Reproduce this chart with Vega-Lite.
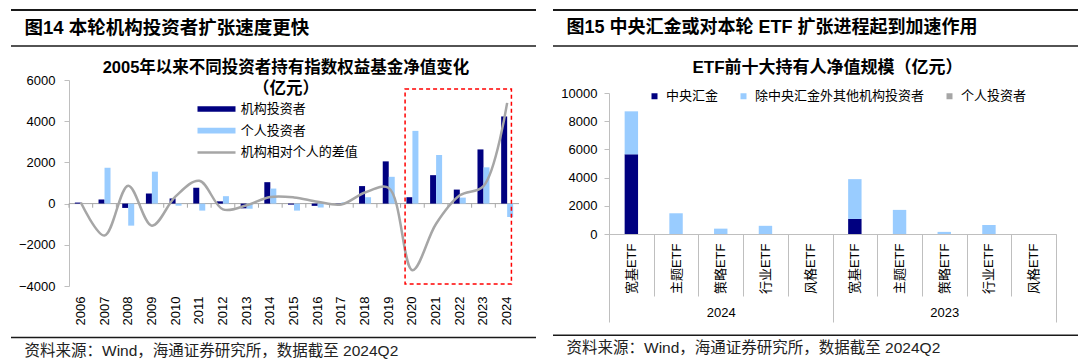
{
  "$schema": "https://vega.github.io/schema/vega-lite/v6.json",
  "background": "white",
  "padding": {"left": 10, "top": 9, "right": 0, "bottom": 0},
  "spacing": 15,
  "resolve": {"scale": {"color": "independent"}, "legend": {"color": "independent"}},
  "config": {
    "view": {"stroke": null},
    "font": "Liberation Sans, Noto Sans CJK SC",
    "axis": {"labelFont": "Liberation Sans, Noto Sans CJK SC", "labelColor": "#000000", "labelFontSize": 13},
    "legend": {"labelFont": "Noto Sans CJK SC", "labelColor": "#000000", "labelFontSize": 13, "labelLimit": 400},
    "title": {"font": "Liberation Sans, Noto Sans CJK SC", "color": "#000000", "fontWeight": "bold"}
  },
  "datasets": {
    "leftBars": [
      {"year": "2006", "series": "机构投资者", "value": 50}, {"year": "2006", "series": "个人投资者", "value": 0},
      {"year": "2007", "series": "机构投资者", "value": 200}, {"year": "2007", "series": "个人投资者", "value": 1740},
      {"year": "2008", "series": "机构投资者", "value": -210}, {"year": "2008", "series": "个人投资者", "value": -1070},
      {"year": "2009", "series": "机构投资者", "value": 490}, {"year": "2009", "series": "个人投资者", "value": 1550},
      {"year": "2010", "series": "机构投资者", "value": 250}, {"year": "2010", "series": "个人投资者", "value": -100},
      {"year": "2011", "series": "机构投资者", "value": 770}, {"year": "2011", "series": "个人投资者", "value": -340},
      {"year": "2012", "series": "机构投资者", "value": 110}, {"year": "2012", "series": "个人投资者", "value": 360},
      {"year": "2013", "series": "机构投资者", "value": -230}, {"year": "2013", "series": "个人投资者", "value": -250},
      {"year": "2014", "series": "机构投资者", "value": 1040}, {"year": "2014", "series": "个人投资者", "value": 730},
      {"year": "2015", "series": "机构投资者", "value": -50}, {"year": "2015", "series": "个人投资者", "value": -340},
      {"year": "2016", "series": "机构投资者", "value": -110}, {"year": "2016", "series": "个人投资者", "value": -190},
      {"year": "2017", "series": "机构投资者", "value": 20}, {"year": "2017", "series": "个人投资者", "value": 60},
      {"year": "2018", "series": "机构投资者", "value": 850}, {"year": "2018", "series": "个人投资者", "value": 310},
      {"year": "2019", "series": "机构投资者", "value": 2050}, {"year": "2019", "series": "个人投资者", "value": 1300},
      {"year": "2020", "series": "机构投资者", "value": 310}, {"year": "2020", "series": "个人投资者", "value": 3530},
      {"year": "2021", "series": "机构投资者", "value": 1380}, {"year": "2021", "series": "个人投资者", "value": 2360},
      {"year": "2022", "series": "机构投资者", "value": 680}, {"year": "2022", "series": "个人投资者", "value": 290},
      {"year": "2023", "series": "机构投资者", "value": 2630}, {"year": "2023", "series": "个人投资者", "value": 1760},
      {"year": "2024", "series": "机构投资者", "value": 4230}, {"year": "2024", "series": "个人投资者", "value": -650}
    ],
    "leftDiff": [
      {"year": "2006", "diff": 50}, {"year": "2007", "diff": -1550}, {"year": "2008", "diff": 870},
      {"year": "2009", "diff": -1070}, {"year": "2010", "diff": 350}, {"year": "2011", "diff": 1110},
      {"year": "2012", "diff": -280}, {"year": "2013", "diff": -80}, {"year": "2014", "diff": 320},
      {"year": "2015", "diff": 300}, {"year": "2016", "diff": 90}, {"year": "2017", "diff": -40},
      {"year": "2018", "diff": 540}, {"year": "2019", "diff": 760}, {"year": "2020", "diff": -3230},
      {"year": "2021", "diff": -980}, {"year": "2022", "diff": 400}, {"year": "2023", "diff": 850},
      {"year": "2024", "diff": 4890}
    ],
    "etf": [
      {"year": "2024", "slot": "2024 宽基ETF", "investor": "中央汇金", "value": 5650},
      {"year": "2024", "slot": "2024 宽基ETF", "investor": "除中央汇金外其他机构投资者", "value": 3050},
      {"year": "2024", "slot": "2024 宽基ETF", "investor": "个人投资者", "value": 0},
      {"year": "2024", "slot": "2024 主题ETF", "investor": "中央汇金", "value": 0},
      {"year": "2024", "slot": "2024 主题ETF", "investor": "除中央汇金外其他机构投资者", "value": 1470},
      {"year": "2024", "slot": "2024 主题ETF", "investor": "个人投资者", "value": 0},
      {"year": "2024", "slot": "2024 策略ETF", "investor": "中央汇金", "value": 0},
      {"year": "2024", "slot": "2024 策略ETF", "investor": "除中央汇金外其他机构投资者", "value": 380},
      {"year": "2024", "slot": "2024 策略ETF", "investor": "个人投资者", "value": 0},
      {"year": "2024", "slot": "2024 行业ETF", "investor": "中央汇金", "value": 0},
      {"year": "2024", "slot": "2024 行业ETF", "investor": "除中央汇金外其他机构投资者", "value": 580},
      {"year": "2024", "slot": "2024 行业ETF", "investor": "个人投资者", "value": 0},
      {"year": "2024", "slot": "2024 风格ETF", "investor": "中央汇金", "value": 0},
      {"year": "2024", "slot": "2024 风格ETF", "investor": "除中央汇金外其他机构投资者", "value": 0},
      {"year": "2024", "slot": "2024 风格ETF", "investor": "个人投资者", "value": 0},
      {"year": "2023", "slot": "2023 宽基ETF", "investor": "中央汇金", "value": 1070},
      {"year": "2023", "slot": "2023 宽基ETF", "investor": "除中央汇金外其他机构投资者", "value": 2820},
      {"year": "2023", "slot": "2023 宽基ETF", "investor": "个人投资者", "value": 0},
      {"year": "2023", "slot": "2023 主题ETF", "investor": "中央汇金", "value": 0},
      {"year": "2023", "slot": "2023 主题ETF", "investor": "除中央汇金外其他机构投资者", "value": 1710},
      {"year": "2023", "slot": "2023 主题ETF", "investor": "个人投资者", "value": 0},
      {"year": "2023", "slot": "2023 策略ETF", "investor": "中央汇金", "value": 0},
      {"year": "2023", "slot": "2023 策略ETF", "investor": "除中央汇金外其他机构投资者", "value": 150},
      {"year": "2023", "slot": "2023 策略ETF", "investor": "个人投资者", "value": 0},
      {"year": "2023", "slot": "2023 行业ETF", "investor": "中央汇金", "value": 0},
      {"year": "2023", "slot": "2023 行业ETF", "investor": "除中央汇金外其他机构投资者", "value": 640},
      {"year": "2023", "slot": "2023 行业ETF", "investor": "个人投资者", "value": 0},
      {"year": "2023", "slot": "2023 风格ETF", "investor": "中央汇金", "value": 0},
      {"year": "2023", "slot": "2023 风格ETF", "investor": "除中央汇金外其他机构投资者", "value": 0},
      {"year": "2023", "slot": "2023 风格ETF", "investor": "个人投资者", "value": 0}
    ]
  },
  "hconcat": [
    {
      "spacing": 0,
      "resolve": {"scale": {"color": "independent"}, "legend": {"color": "independent"}},
      "vconcat": [
        {
          "width": 450, "height": 49.5,
          "data": {"values": [{"heading": "图14 本轮机构投资者扩张速度更快"}]},
          "layer": [
            {"mark": {"type": "rule", "stroke": "#1a1a1a", "strokeWidth": 2},
             "encoding": {
               "x": {"datum": -58, "type": "quantitative", "scale": {"domain": [0, 450], "nice": false, "zero": false}, "axis": null},
               "x2": {"datum": 467},
               "y": {"datum": 0, "type": "quantitative", "scale": {"domain": [0, 49.5], "nice": false, "zero": false, "reverse": true}, "axis": null}}},
            {"mark": {"type": "rule", "stroke": "#1a1a1a", "strokeWidth": 1.5},
             "encoding": {"x": {"datum": -58, "type": "quantitative"}, "x2": {"datum": 467}, "y": {"datum": 36, "type": "quantitative"}}},
            {"mark": {"type": "text", "align": "left", "baseline": "middle", "fontSize": 18.5, "fontWeight": "bold", "color": "#000000"},
             "encoding": {"x": {"datum": -44.5, "type": "quantitative"}, "y": {"datum": 18, "type": "quantitative"}, "text": {"field": "heading"}}}
          ]
        },
        {
          "width": 450, "height": 206,
          "title": {"text": ["2005年以来不同投资者持有指数权益基金净值变化", "（亿元）"], "fontSize": 16.5, "lineHeight": 21, "offset": -23.7, "dx": -8, "anchor": "middle"},
          "layer": [
            {
              "data": {"values": [{}]},
              "mark": {"type": "rule", "color": "#A6A6A6", "strokeWidth": 1},
              "encoding": {"y": {"datum": 0, "type": "quantitative"}}
            },
            {
              "data": {"name": "leftDiff"},
              "mark": {"type": "rule", "color": "#A6A6A6", "strokeWidth": 1},
              "encoding": {
                "x": {"field": "year", "type": "nominal", "sort": null, "bandPosition": 0},
                "y": {"datum": 0, "type": "quantitative"},
                "y2": {"datum": -200}
              }
            },
            {
              "data": {"name": "leftBars"},
              "mark": {"type": "bar"},
              "encoding": {
                "x": {"field": "year", "type": "nominal", "sort": null, "scale": {"paddingInner": 0, "paddingOuter": 0},
                      "axis": {"orient": "bottom", "title": null, "domain": false, "ticks": false, "labelAngle": -90, "labelAlign": "right", "labelBaseline": "middle", "labelPadding": 10}},
                "xOffset": {"field": "series", "type": "nominal", "sort": ["机构投资者", "个人投资者"], "scale": {"paddingInner": 0, "paddingOuter": 0.975}},
                "y": {"field": "value", "type": "quantitative", "scale": {"domain": [-4000, 6000], "nice": false, "zero": false},
                      "axis": {"title": null, "values": [-4000, -2000, 0, 2000, 4000, 6000], "format": "d", "grid": false, "domainColor": "#BFBFBF", "tickColor": "#BFBFBF", "tickSize": 5, "labelPadding": 9}},
                "color": {"field": "series", "type": "nominal",
                          "scale": {"domain": ["机构投资者", "个人投资者", "机构相对个人的差值"], "range": ["#000080", "#99CCFF", "#A6A6A6"]},
                          "legend": {"orient": "none", "legendX": 141, "legendY": 22.5, "direction": "vertical", "title": null,
                                     "symbolType": "M-3.8,-0.57H3.8V0.57H-3.8Z", "symbolSize": 100, "symbolStrokeWidth": 0,
                                     "labelOffset": 17.7, "rowPadding": 7.7,
                                     "encode": {"symbols": {"update": {
                                       "shape": {"signal": "datum.value === '机构相对个人的差值' ? 'M-3.8,-0.25H3.8V0.25H-3.8Z' : 'M-3.8,-0.57H3.8V0.57H-3.8Z'"},
                                       "fill": {"scale": "color", "field": "value"},
                                       "strokeWidth": {"value": 0}}}}}}
              }
            },
            {
              "data": {"name": "leftDiff"},
              "mark": {"type": "line", "interpolate": "catmull-rom", "strokeWidth": 2.5},
              "encoding": {
                "x": {"field": "year", "type": "nominal", "sort": null, "bandPosition": 0.5},
                "y": {"field": "diff", "type": "quantitative"},
                "color": {"datum": "机构相对个人的差值"}
              }
            },
            {
              "data": {"values": [{}]},
              "mark": {"type": "rect", "fill": null, "stroke": "#FF0000", "strokeWidth": 1.5, "strokeDash": [4, 3]},
              "encoding": {
                "x": {"datum": "2020", "bandPosition": 0.19},
                "x2": {"datum": "2024", "bandPosition": 0.68},
                "y": {"datum": 5560},
                "y2": {"datum": -3900}
              }
            }
          ]
        },
        {
          "width": 450, "height": 32,
          "data": {"values": [{"source": "资料来源：Wind，海通证券研究所，数据截至 2024Q2"}]},
          "layer": [
            {"mark": {"type": "rule", "stroke": "#1a1a1a", "strokeWidth": 1.5},
             "encoding": {
               "x": {"datum": -58, "type": "quantitative", "scale": {"domain": [0, 450], "nice": false, "zero": false}, "axis": null},
               "x2": {"datum": 467},
               "y": {"datum": 12.5, "type": "quantitative", "scale": {"domain": [0, 32], "nice": false, "zero": false, "reverse": true}, "axis": null}}},
            {"mark": {"type": "text", "align": "left", "baseline": "middle", "fontSize": 15.5, "color": "#222222"},
             "encoding": {"x": {"datum": -44.5, "type": "quantitative"}, "y": {"datum": 25.5, "type": "quantitative"}, "text": {"field": "source"}}}
          ]
        }
      ]
    },
    {
      "spacing": 0,
      "resolve": {"scale": {"color": "independent"}, "legend": {"color": "independent"}},
      "vconcat": [
        {
          "width": 447, "height": 49,
          "data": {"values": [{"heading": "图15 中央汇金或对本轮 ETF 扩张进程起到加速作用"}]},
          "layer": [
            {"mark": {"type": "rule", "stroke": "#1a1a1a", "strokeWidth": 2},
             "encoding": {
               "x": {"datum": -56, "type": "quantitative", "scale": {"domain": [0, 447], "nice": false, "zero": false}, "axis": null},
               "x2": {"datum": 469},
               "y": {"datum": 0, "type": "quantitative", "scale": {"domain": [0, 49], "nice": false, "zero": false, "reverse": true}, "axis": null}}},
            {"mark": {"type": "rule", "stroke": "#1a1a1a", "strokeWidth": 1.5},
             "encoding": {"x": {"datum": -56, "type": "quantitative"}, "x2": {"datum": 469}, "y": {"datum": 36, "type": "quantitative"}}},
            {"mark": {"type": "text", "align": "left", "baseline": "middle", "fontSize": 18, "fontWeight": "bold", "color": "#000000"},
             "encoding": {"x": {"datum": -42.5, "type": "quantitative"}, "y": {"datum": 18, "type": "quantitative"}, "text": {"field": "heading"}}}
          ]
        },
        {
          "width": 447, "height": 141,
          "title": {"text": "ETF前十大持有人净值规模（亿元）", "fontSize": 17, "offset": 10, "dx": -5, "anchor": "middle"},
          "layer": [
            {
              "data": {"name": "etf"},
              "mark": {"type": "bar", "width": {"band": 0.3}},
              "encoding": {
                "x": {"field": "slot", "type": "nominal", "sort": null, "scale": {"paddingInner": 0, "paddingOuter": 0},
                      "axis": {"orient": "bottom", "title": null, "domain": true, "domainColor": "#BFBFBF", "ticks": true, "tickBand": "extent", "tickSize": 62, "tickColor": "#BFBFBF",
                               "labelAngle": -90, "labelAlign": "right", "labelBaseline": "middle", "labelPadding": -53, "labelExpr": "slice(datum.label, 5)"}},
                "y": {"field": "value", "type": "quantitative", "stack": "zero", "scale": {"domain": [0, 10000], "nice": false},
                      "axis": {"title": null, "values": [0, 2000, 4000, 6000, 8000, 10000], "format": "d", "grid": false, "domainColor": "#BFBFBF", "tickColor": "#BFBFBF", "tickSize": 5, "labelPadding": 7}},
                "order": {"field": "investor", "type": "nominal", "sort": "ascending"},
                "color": {"field": "investor", "type": "nominal",
                          "scale": {"domain": ["中央汇金", "除中央汇金外其他机构投资者", "个人投资者"], "range": ["#000080", "#99CCFF", "#A6A6A6"]},
                          "legend": {"orient": "none", "legendX": 39, "legendY": -3.5, "direction": "horizontal", "title": null,
                                     "symbolType": "square", "symbolSize": 36, "symbolStrokeWidth": 0, "labelOffset": 5, "columnPadding": 18}}
              }
            },
            {
              "data": {"values": [{"year": "2024"}, {"year": "2023"}]},
              "mark": {"type": "rule", "opacity": 0},
              "encoding": {
                "x": {"field": "year", "type": "nominal", "sort": null, "scale": {"paddingInner": 0, "paddingOuter": 0},
                      "axis": {"orient": "bottom", "title": null, "domain": false, "ticks": true, "tickBand": "extent", "tickSize": 88, "tickColor": "#BFBFBF",
                               "labelAngle": 0, "labelAlign": "center", "labelBaseline": "top", "labelPadding": -16}}
              }
            }
          ],
          "resolve": {"scale": {"x": "independent"}}
        },
        {
          "width": 447, "height": 30,
          "data": {"values": [{"source": "资料来源：Wind，海通证券研究所，数据截至 2024Q2"}]},
          "layer": [
            {"mark": {"type": "rule", "stroke": "#1a1a1a", "strokeWidth": 1.5},
             "encoding": {
               "x": {"datum": -56, "type": "quantitative", "scale": {"domain": [0, 447], "nice": false, "zero": false}, "axis": null},
               "x2": {"datum": 469},
               "y": {"datum": 12.3, "type": "quantitative", "scale": {"domain": [0, 30], "nice": false, "zero": false, "reverse": true}, "axis": null}}},
            {"mark": {"type": "text", "align": "left", "baseline": "middle", "fontSize": 15.5, "color": "#222222"},
             "encoding": {"x": {"datum": -42.5, "type": "quantitative"}, "y": {"datum": 25.3, "type": "quantitative"}, "text": {"field": "source"}}}
          ]
        }
      ]
    }
  ]
}
